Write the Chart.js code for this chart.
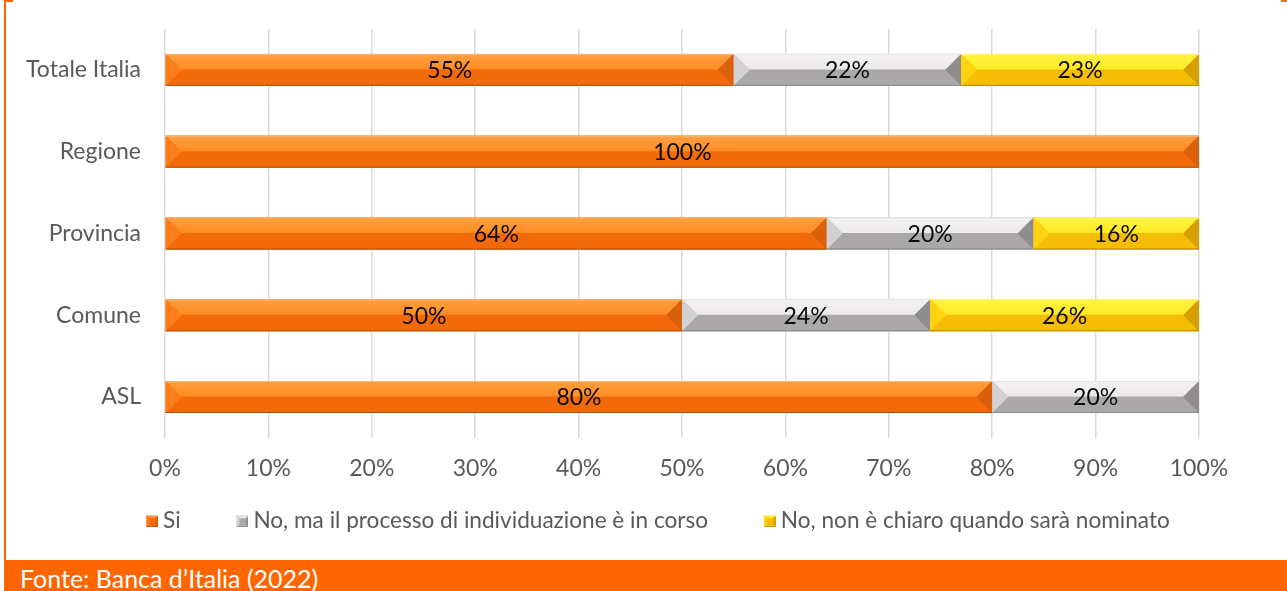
<!DOCTYPE html>
<html>
<head>
  <meta http-equiv="Content-type" content="text/html; charset=utf-8">
  <title>Responsabile per la transizione al digitale</title>
  <style>
    body { margin: 0; background: #fff; }
    #wrap { position: relative; width: 1287px; height: 591px; overflow: hidden; }
    #canvas { position: absolute; left: 0; top: 0; }
    .bordo-sx { position: absolute; left: 4px; top: 0; width: 2px; height: 560px; background: #FF6600; }
    .tacca-sx { position: absolute; left: 4px; top: 0; width: 9px; height: 2px; background: #FF6600; }
    .tacca-dx { position: absolute; left: 1281px; top: 0; width: 6px; height: 2px; background: #FF6600; }
    .fonte {
      position: absolute; left: 4px; top: 560px; width: 1283px; height: 31px;
      background: #FF6600; color: #fff; font: 25px Lato, sans-serif;
      line-height: 36px; padding-left: 16px; box-sizing: border-box; white-space: nowrap;
    }
  </style>
</head>
<body>
  <div id="wrap">
    <canvas id="canvas" width="1287" height="560"></canvas>
    <div class="bordo-sx"></div>
    <div class="tacca-sx"></div>
    <div class="tacca-dx"></div>
    <div class="fonte">Fonte: Banca d’Italia (2022)</div>
  </div>

  <script src="https://cdn.jsdelivr.net/npm/chart.js"></script>

  <script>
    // Categorie e valori (%)
    const categorie = ['Totale Italia', 'Regione', 'Provincia', 'Comune', 'ASL'];
    const si        = [55, 100, 64, 50, 80];
    const inCorso   = [22, 0, 20, 24, 20];
    const nonChiaro = [23, 0, 16, 26, 0];
    const nomiSerie = [
      'Si',
      'No, ma il processo di individuazione è in corso',
      'No, non è chiaro quando sarà nominato'
    ];

    // Colori delle facce smussate per ogni serie
    const palette = [
      { top: '#FFA040', topEnd: '#FF8C24', bottom: '#F26A0A', left: '#FF7D16', right: '#DA600C', hi: '#F8B47E', lo: '#B5530E' },
      { top: '#F4F2F2', topEnd: '#EBE9E9', bottom: '#AAA8A8', left: '#D3D1D1', right: '#8F8D8D', hi: '#E4E2E2', lo: '#8A8888' },
      { top: '#FFF43C', topEnd: '#FFEA28', bottom: '#F5BD05', left: '#FFD30F', right: '#D6A000', hi: '#FFF27A', lo: '#B58C08' }
    ];

    const FONT = 'Lato';
    const SIZE = 23;
    const SIZE_LEGENDA = 22.6;
    const GRIGIO_TESTO = '#595959';

    function poly(ctx, pts, fill) {
      ctx.beginPath();
      ctx.moveTo(pts[0][0], pts[0][1]);
      for (let i = 1; i < pts.length; i++) ctx.lineTo(pts[i][0], pts[i][1]);
      ctx.closePath();
      ctx.fillStyle = fill;
      ctx.fill();
    }

    // Rettangolo con effetto smussato (4 facce + centro)
    function smussa(ctx, x0, x1, y0, y1, d, c) {
      const g = ctx.createLinearGradient(0, y0, 0, y0 + d);
      g.addColorStop(0, c.top);
      g.addColorStop(1, c.topEnd);
      ctx.fillStyle = c.bottom;
      ctx.fillRect(x0, y0, x1 - x0, y1 - y0);
      poly(ctx, [[x0, y0], [x1, y0], [x1 - d, y0 + d], [x0 + d, y0 + d]], g);
      poly(ctx, [[x0, y1], [x1, y1], [x1 - d, y1 - d], [x0 + d, y1 - d]], c.bottom);
      poly(ctx, [[x0, y0], [x0 + d, y0 + d], [x0 + d, y1 - d], [x0, y1]], c.left);
      poly(ctx, [[x1, y0], [x1 - d, y0 + d], [x1 - d, y1 - d], [x1, y1]], c.right);
      ctx.fillStyle = c.hi;
      ctx.fillRect(x0, y0, x1 - x0, 1);
      ctx.fillStyle = c.lo;
      ctx.fillRect(x0, y1 - 1, x1 - x0, 1);
    }

    // Icona della legenda: spazio vuoto a sinistra, quadratino a destra.
    // L'immagine sborda dal box di 6.5px per lato, così il testo resta vicino.
    const LARGH_BOX = 34.5;
    const LARGH_ICONA = LARGH_BOX + 13;
    function iconaLegenda(c) {
      const cv = document.createElement('canvas');
      cv.width = LARGH_ICONA; cv.height = 12;
      smussa(cv.getContext('2d'), LARGH_ICONA - 12, LARGH_ICONA, 0, 12, 3, c);
      return cv;
    }

    const barreSmussate = {
      id: 'barreSmussate',
      afterDatasetsDraw(chart) {
        const ctx = chart.ctx;
        ctx.save();
        chart.data.datasets.forEach((ds, i) => {
          const meta = chart.getDatasetMeta(i);
          meta.data.forEach((el, j) => {
            if (!ds.data[j]) return;
            const p = el.getProps(['x', 'y', 'base', 'height'], true);
            const x0 = Math.min(p.x, p.base), x1 = Math.max(p.x, p.base);
            const y0 = p.y - p.height / 2, y1 = p.y + p.height / 2;
            const d = Math.min(p.height / 2 - 0.5, (x1 - x0) / 2);
            smussa(ctx, x0, x1, y0, y1, d, palette[i]);
          });
        });
        // Etichette dei valori
        ctx.fillStyle = '#0A0A0A';
        ctx.font = SIZE + 'px ' + FONT;
        ctx.textAlign = 'center';
        ctx.textBaseline = 'middle';
        chart.data.datasets.forEach((ds, i) => {
          const meta = chart.getDatasetMeta(i);
          meta.data.forEach((el, j) => {
            const v = ds.data[j];
            if (!v) return;
            const p = el.getProps(['x', 'y', 'base'], true);
            ctx.fillText(v + '%', (p.x + p.base) / 2, p.y + 1);
          });
        });
        ctx.restore();
      }
    };

    const ctx = document.getElementById('canvas').getContext('2d');

    const chart = new Chart(ctx, {
      type: 'bar',
      data: {
        labels: categorie,
        datasets: [si, inCorso, nonChiaro].map((valori, i) => ({
          label: nomiSerie[i],
          data: valori,
          backgroundColor: palette[i].bottom,
          borderWidth: 0,
          barPercentage: 0.39,
          categoryPercentage: 1
        }))
      },
      options: {
        indexAxis: 'y',
        responsive: false,
        animation: false,
        layout: { padding: { top: 29, bottom: 17.5 } },
        plugins: {
          tooltip: { enabled: false },
          legend: {
            position: 'bottom',
            labels: {
              usePointStyle: true,
              pointStyleWidth: LARGH_BOX,
              padding: 27,
              color: GRIGIO_TESTO,
              font: { family: FONT, size: SIZE_LEGENDA },
              generateLabels: (c) => c.data.datasets.map((ds, i) => ({
                text: ds.label,
                pointStyle: iconaLegenda(palette[i]),
                fillStyle: palette[i].bottom,
                strokeStyle: palette[i].bottom,
                lineWidth: 0,
                fontColor: GRIGIO_TESTO,
                hidden: false,
                datasetIndex: i
              }))
            }
          }
        },
        scales: {
          x: {
            type: 'linear',
            stacked: true,
            min: 0,
            max: 100,
            ticks: {
              stepSize: 10,
              padding: 17,
              color: GRIGIO_TESTO,
              font: { family: FONT, size: SIZE },
              callback: (v) => v + '%'
            },
            grid: { color: '#D9D9D9', lineWidth: 1.5, drawTicks: false },
            border: { display: false },
            afterFit: (s) => { s.height = 45; }
          },
          y: {
            stacked: true,
            ticks: {
              padding: 0,
              color: GRIGIO_TESTO,
              font: { family: FONT, size: SIZE }
            },
            // tickLength usato solo come distanza tra etichette e area del grafico
            grid: { display: false, drawTicks: true, tickLength: 24 },
            border: { display: false },
            afterFit: (s) => { s.width = 165; }
          },
          // asse vuoto a destra per lasciare il margine
          y2: {
            type: 'category',
            position: 'right',
            labels: categorie,
            grid: { display: false, drawTicks: false },
            ticks: { display: false },
            border: { display: false },
            afterFit: (s) => { s.width = 88; }
          }
        }
      },
      plugins: [barreSmussate]
    });
  </script>
</body>
</html>
